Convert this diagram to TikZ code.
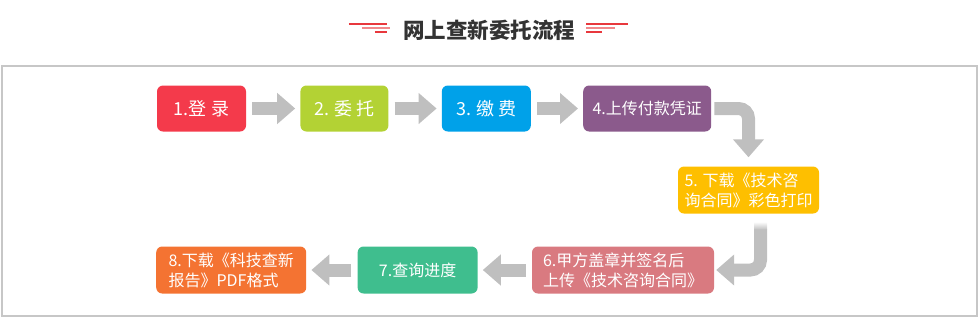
\documentclass[tikz,border=0pt]{standalone}
\usepackage{fontspec}
\newfontfamily\cjk{Noto Sans CJK SC}
\usetikzlibrary{arrows.meta,positioning,calc}
\definecolor{loginred}{HTML}{F43A4B}
\definecolor{entrustlime}{HTML}{B3D234}
\definecolor{payblue}{HTML}{00A1E9}
\definecolor{uploadpurple}{HTML}{8B5A8C}
\definecolor{printamber}{HTML}{FEBF00}
\definecolor{signpink}{HTML}{D97A80}
\definecolor{querygreen}{HTML}{3FBE8E}
\definecolor{reportorange}{HTML}{F47332}
\definecolor{arrgray}{HTML}{BFBFBF}
\definecolor{titlered}{HTML}{E8383D}
\definecolor{titlegray}{HTML}{333333}

\begin{document}
\begin{tikzpicture}[x=1pt, y=-1pt,
  stepbox/.style={rectangle, rounded corners=6pt, inner sep=0pt, minimum height=46pt,
    text=white, align=left, font=\cjk\fontsize{16}{20}\selectfont},
  bigtext/.style={font=\cjk\fontsize{18}{20}\selectfont},
  arr/.style={arrgray, line width=13pt, -{Triangle[width=30pt,length=18pt]},
    shorten <=6pt, shorten >=5pt},
  turnarr/.style={arr, rounded corners=10pt},
  deco/.style={titlered, line width=1.2pt}]
\useasboundingbox (0,0) rectangle (980,317);
% title and frame
\node[font=\cjk\bfseries\fontsize{21.5}{24}\selectfont, text=titlegray, inner sep=0pt] (ttl) at (489,30) {网上查新委托流程};
\draw[deco] ($(ttl.west)+(-54,-6)$) -- ++(38,0);
\draw[deco, titlered!60, line width=1.5pt] ($(ttl.west)+(-41,-2)$) -- ++(28,0);
\draw[deco] ($(ttl.west)+(-28,2)$) -- ++(12,0);
\draw[deco] ($(ttl.east)+(11,-6)$) -- ++(42,0);
\draw[deco, titlered!60, line width=1.5pt] ($(ttl.east)+(11,-2)$) -- ++(29,0);
\draw[deco] ($(ttl.east)+(11,2)$) -- ++(16,0);
\draw[black!22, line width=1.3pt] (2,66) rectangle (977,316);
% top row
\node[stepbox, bigtext, fill=loginred, minimum width=89pt] (login) at (201.5,108.5) {1.登 录};
\node[stepbox, bigtext, fill=entrustlime, minimum width=88pt, right=54pt of login] (entrust) {2. 委 托};
\node[stepbox, bigtext, fill=payblue, minimum width=89pt, right=53pt of entrust] (pay) {3. 缴 费};
\node[stepbox, fill=uploadpurple, minimum width=128pt, right=52pt of pay] (upload) {4.上传付款凭证};
% right turn
\node[stepbox, fill=printamber, minimum width=141pt, minimum height=47pt] (print) at (748.5,190) {5. 下载《技术咨\\询合同》彩色打印};
% bottom row
\node[stepbox, fill=signpink, minimum width=182pt, minimum height=47pt] (sign) at (623,270) {6.甲方盖章并签名后\\上传《技术咨询合同》};
\node[stepbox, fill=querygreen, minimum width=120pt, minimum height=47pt, left=54pt of sign] (query) {7.查询进度};
\node[stepbox, fill=reportorange, minimum width=150pt, minimum height=47pt, left=51pt of query] (report) {8.下载《科技查新\\报告》PDF格式};
\draw[arr] (login) -- (entrust);
\draw[arr] (entrust) -- (pay);
\draw[arr] (pay) -- (upload);
\draw[turnarr, shorten <=3pt, shorten >=9pt] (upload.east) -| (print.north);
\shade[top color=white, bottom color=arrgray] ($(print.south)+(5.5,8)$) rectangle ($(print.south)+(18.5,16)$);
\draw[turnarr, shorten <=16pt, shorten >=2pt] ([xshift=12pt]print.south) |- (sign.east);
\draw[arr] (sign) -- (query);
\draw[arr] (query) -- (report);
\end{tikzpicture}
\end{document}
